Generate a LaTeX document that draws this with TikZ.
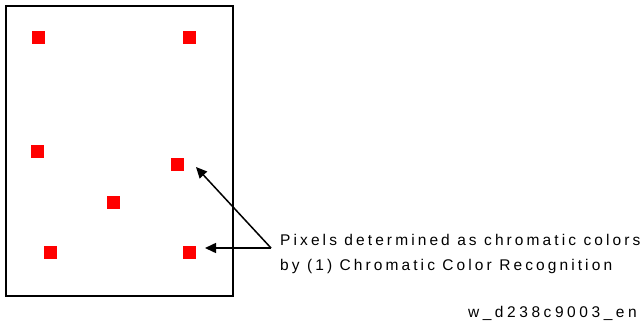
\documentclass[tikz,border=0pt]{standalone}
\usepackage{fontspec}
\setmainfont{Liberation Sans}
\usetikzlibrary{arrows.meta}
\begin{document}
\begin{tikzpicture}[x=1pt,y=-1pt,
  px/.style={fill=red,minimum size=13pt,inner sep=0pt,draw=none},
  arr/.style={line width=1.5pt,-{Triangle[length=11pt,width=10pt]}},
  lbl/.style={font=\fontsize{15.5pt}{25pt}\selectfont\addfontfeature{LetterSpace=20},inner sep=0pt}]
\useasboundingbox (0,0) rectangle (643,327);
\draw[line width=2pt] (6,6) rectangle (233,296);
\node[px] (p1) at (38.5,37.5) {};
\node[px] (p2) at (189.5,37.5) {};
\node[px] (p3) at (37.5,151) {};
\node[px] (p4) at (177,164) {};
\node[px] (p5) at (113.5,202) {};
\node[px] (p6) at (50.5,252.5) {};
\node[px] (p7) at (189.5,252.5) {};
\coordinate (v) at (271,248);
\coordinate (t1) at (196,167);
\coordinate (t2) at (205,248);
\draw[arr] (v) -- (t1);
\draw[arr] (v) -- (t2);
\node[lbl,anchor=west,align=left] (txt) at (280,253.5) {Pixels determined as chromatic colors\\by (1) Chromatic Color Recognition};
\node[lbl,anchor=east,font=\fontsize{15.5pt}{25pt}\selectfont\addfontfeature{LetterSpace=23}] (code) at (637,313) {w\_d238c9003\_en};
\end{tikzpicture}
\end{document}
